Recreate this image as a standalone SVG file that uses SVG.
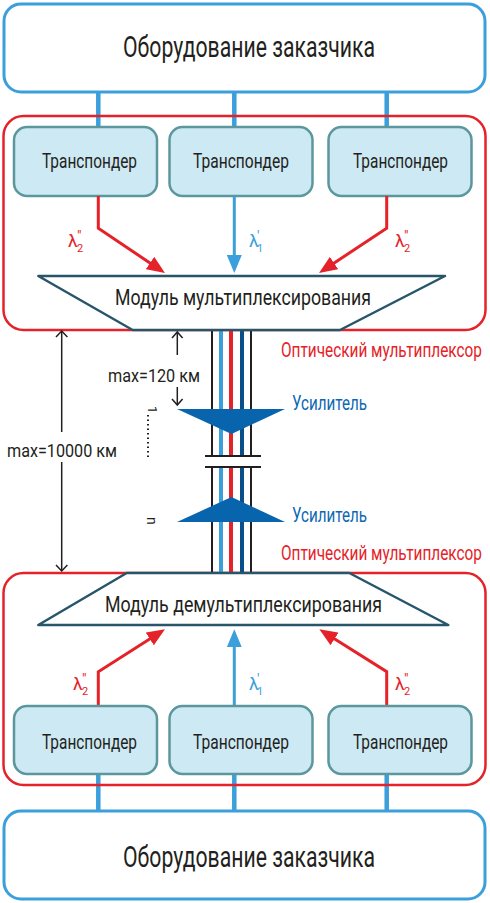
<svg xmlns="http://www.w3.org/2000/svg" width="490" height="903" viewBox="0 0 490 903">
<style>
text{font-family:Roboto,"Liberation Sans",sans-serif;fill:#231f20}
.cust{fill:#fff;stroke:#3a9fdb;stroke-width:3}
.mux{fill:none;stroke:#e52229;stroke-width:2.5}
.tp{fill:#cde9f3;stroke:#5b979c;stroke-width:2.5}
.trap{fill:#fff;stroke:#27566a;stroke-width:2.5;stroke-linejoin:round}
.link{stroke:#3a9fdb;stroke-width:4.5}
.ra{fill:none;stroke:#e52229;stroke-width:3;marker-end:url(#mr)}
.ba{fill:none;stroke:#3a9fdb;stroke-width:3;marker-end:url(#mb)}
.dim{fill:none;stroke:#231f20;stroke-width:1.5}
.red{fill:#e52229}
.blue{fill:#0b67b1}
.lb{fill:#3a9fdb}
.amp{fill:#0864ad}
</style>
<defs>
<marker id="mr" markerUnits="userSpaceOnUse" markerWidth="18" markerHeight="15" refX="12" refY="7.5" orient="auto"><path d="M0,0 L18,7.5 L0,15 z" fill="#e52229"/></marker>
<marker id="mb" markerUnits="userSpaceOnUse" markerWidth="18" markerHeight="15" refX="12" refY="7.5" orient="auto"><path d="M0,0 L18,7.5 L0,15 z" fill="#3a9fdb"/></marker>
</defs>

<g id="connectors">
<line class="link" x1="98.3" y1="92" x2="98.3" y2="127"/>
<line class="link" x1="234.3" y1="92" x2="234.3" y2="127"/>
<line class="link" x1="386.7" y1="92" x2="386.7" y2="127"/>
<line class="link" x1="98.3" y1="774" x2="98.3" y2="811"/>
<line class="link" x1="234.3" y1="774" x2="234.3" y2="811"/>
<line class="link" x1="386.7" y1="774" x2="386.7" y2="811"/>
</g>

<g id="customer-top"><rect class="cust" x="4" y="4" width="481" height="88" rx="17"/>
<text x="123" y="57" font-size="30" textLength="252" lengthAdjust="spacingAndGlyphs">Оборудование заказчика</text></g>

<g id="mux-top"><rect class="mux" x="3.5" y="116" width="482" height="214" rx="20"/></g>
<g id="mux-bottom"><rect class="mux" x="3.5" y="573" width="482" height="212" rx="20"/></g>

<g id="tp-top-1"><rect class="tp" x="14" y="127" width="143" height="69" rx="13"/><text x="42" y="168" font-size="21" textLength="95" lengthAdjust="spacingAndGlyphs">Транспондер</text></g>
<g id="tp-top-2"><rect class="tp" x="169.5" y="127" width="143" height="69" rx="13"/><text x="193" y="168" font-size="21" textLength="96" lengthAdjust="spacingAndGlyphs">Транспондер</text></g>
<g id="tp-top-3"><rect class="tp" x="328.5" y="127" width="143" height="69" rx="13"/><text x="353" y="168" font-size="21" textLength="95" lengthAdjust="spacingAndGlyphs">Транспондер</text></g>

<g id="arrows-top">
<polyline class="ra" points="98.3,196 98.3,228.3 160,269.7"/>
<line class="ba" x1="234.3" y1="196" x2="234.3" y2="267"/>
<polyline class="ra" points="386.7,196 386.7,228.3 324,269.7"/>
</g>

<g id="lambda-top">
<text class="red" x="68" y="247" font-size="18">λ<tspan x="77" y="252" font-size="11">2</tspan><tspan x="77" y="241" font-size="14">"</tspan></text>
<text class="lb" x="249" y="247" font-size="18">λ<tspan x="257" y="252" font-size="11">1</tspan><tspan x="257" y="241" font-size="14">'</tspan></text>
<text class="red" x="395" y="247" font-size="18">λ<tspan x="404" y="252" font-size="11">2</tspan><tspan x="404" y="241" font-size="14">"</tspan></text>
</g>

<g id="fiber">
<line x1="212" y1="330" x2="212" y2="456" stroke="#231f20" stroke-width="2"/>
<line x1="221" y1="330" x2="221" y2="456" stroke="#3a9fdb" stroke-width="4"/>
<line x1="231" y1="330" x2="231" y2="456" stroke="#e52229" stroke-width="4"/>
<line x1="242" y1="330" x2="242" y2="456" stroke="#0b4f8a" stroke-width="4"/>
<line x1="251" y1="330" x2="251" y2="456" stroke="#231f20" stroke-width="2"/>
<line x1="212" y1="467" x2="212" y2="573" stroke="#231f20" stroke-width="2"/>
<line x1="221" y1="467" x2="221" y2="573" stroke="#3a9fdb" stroke-width="4"/>
<line x1="231" y1="467" x2="231" y2="573" stroke="#e52229" stroke-width="4"/>
<line x1="242" y1="467" x2="242" y2="573" stroke="#0b4f8a" stroke-width="4"/>
<line x1="251" y1="467" x2="251" y2="573" stroke="#231f20" stroke-width="2"/>
<line x1="205" y1="456" x2="261" y2="456" stroke="#231f20" stroke-width="2.2"/>
<line x1="205" y1="467" x2="261" y2="467" stroke="#231f20" stroke-width="2.2"/>
</g>

<g id="mux-module"><polygon class="trap" points="38.3,276 445,276 340,330 132.7,330"/>
<text x="115" y="305" font-size="22" textLength="256" lengthAdjust="spacingAndGlyphs">Модуль мультиплексирования</text></g>

<g id="demux-module"><polygon class="trap" points="126.7,573 349.3,573 448.3,625 38.3,625"/>
<text x="105" y="612" font-size="22" textLength="277" lengthAdjust="spacingAndGlyphs">Модуль демультиплексирования</text></g>

<g id="amp-1"><polygon class="amp" points="177,409 285,409 231.5,434"/>
<text class="blue" x="292" y="410" font-size="20" textLength="75" lengthAdjust="spacingAndGlyphs">Усилитель</text></g>
<g id="amp-n"><polygon class="amp" points="177,522 285,522 231.5,497"/>
<text class="blue" x="292" y="522" font-size="20" textLength="75" lengthAdjust="spacingAndGlyphs">Усилитель</text></g>

<g id="labels">
<text class="red" transform="translate(281,357) scale(1,1.17)" x="0" y="0" font-size="17" textLength="201" lengthAdjust="spacingAndGlyphs">Оптический мультиплексор</text>
<text class="red" transform="translate(281,560) scale(1,1.17)" x="0" y="0" font-size="17" textLength="201" lengthAdjust="spacingAndGlyphs">Оптический мультиплексор</text>
<text x="108" y="382" font-size="19" textLength="92" lengthAdjust="spacingAndGlyphs">max=120 км</text>
<text x="7" y="457" font-size="19" textLength="110" lengthAdjust="spacingAndGlyphs">max=10000 км</text>
<text transform="translate(148,406) rotate(90)" font-size="13">1</text>
<text transform="translate(147,517) rotate(90)" font-size="14">n</text>
</g>

<g id="dimensions">
<line class="dim" x1="177.3" y1="332" x2="177.3" y2="355"/>
<line class="dim" x1="177.3" y1="387" x2="177.3" y2="405"/>
<polyline class="dim" points="172,338 177.3,332 182.6,338"/>
<polyline class="dim" points="172,399 177.3,405 182.6,399"/>
<line class="dim" x1="61.7" y1="331" x2="61.7" y2="432"/>
<line class="dim" x1="61.7" y1="462" x2="61.7" y2="571"/>
<polyline class="dim" points="56,337 61.7,331 67.4,337"/>
<polyline class="dim" points="56,565 61.7,571 67.4,565"/>
<line x1="148" y1="415" x2="148" y2="458" stroke="#231f20" stroke-width="2" stroke-dasharray="1.5 3"/>
</g>

<g id="arrows-bottom">
<polyline class="ra" points="98.3,706 98.3,671.7 159.9,632.5"/>
<line class="ba" x1="234.3" y1="706" x2="234.3" y2="635.3"/>
<polyline class="ra" points="386.7,706 386.7,671.7 324.4,632.5"/>
</g>

<g id="lambda-bottom">
<text class="red" x="73" y="690" font-size="18">λ<tspan x="82" y="695" font-size="11">2</tspan><tspan x="82" y="684" font-size="14">"</tspan></text>
<text class="lb" x="249" y="690" font-size="18">λ<tspan x="257" y="695" font-size="11">1</tspan><tspan x="257" y="684" font-size="14">'</tspan></text>
<text class="red" x="395" y="690" font-size="18">λ<tspan x="404" y="695" font-size="11">2</tspan><tspan x="404" y="684" font-size="14">"</tspan></text>
</g>

<g id="tp-bottom-1"><rect class="tp" x="14" y="706" width="143" height="68" rx="13"/><text x="42" y="749" font-size="21" textLength="95" lengthAdjust="spacingAndGlyphs">Транспондер</text></g>
<g id="tp-bottom-2"><rect class="tp" x="169.5" y="706" width="143" height="68" rx="13"/><text x="193" y="749" font-size="21" textLength="96" lengthAdjust="spacingAndGlyphs">Транспондер</text></g>
<g id="tp-bottom-3"><rect class="tp" x="328.5" y="706" width="143" height="68" rx="13"/><text x="353" y="749" font-size="21" textLength="95" lengthAdjust="spacingAndGlyphs">Транспондер</text></g>

<g id="customer-bottom"><rect class="cust" x="4" y="811" width="481" height="88" rx="17"/>
<text x="123" y="867" font-size="30" textLength="252" lengthAdjust="spacingAndGlyphs">Оборудование заказчика</text></g>
</svg>
